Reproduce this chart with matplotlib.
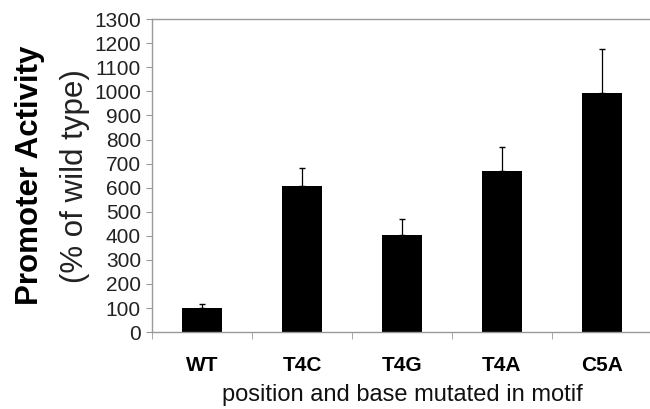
import matplotlib.pyplot as plt
import numpy as np

plt.rcParams['font.family'] = ['Liberation Sans', 'DejaVu Sans']

categories = ["WT", "T4C", "T4G", "T4A", "C5A"]
activity = [99, 608, 403, 671, 992]
upper_err = [16, 74, 65, 97, 184]
y_ticks = list(range(0, 1400, 100))


def create_plot():
	fig, ax = plt.subplots(1, 1, figsize=(6.5, 4.09), dpi=100)
	plt.subplots_adjust(left=0.234, right=1.003, top=0.953, bottom=0.188)

	x = np.arange(len(categories))
	ax.bar(x, activity, width=0.4, color="black", zorder=2)
	ax.errorbar(x, activity, yerr=[np.zeros(len(upper_err)), upper_err], fmt="none",
		ecolor="black", elinewidth=0.9, capsize=2.5, capthick=1, zorder=3)

	ax.set_xlim(-0.5, len(categories) - 0.5)
	ax.set_ylim(0, 1300)
	ax.set_yticks(y_ticks)
	ax.set_xticks(x)
	ax.set_xticklabels(categories, fontweight="bold", fontsize=15)
	ax.set_xticks(np.arange(len(categories) + 1) - 0.5, minor=True)
	ax.tick_params(axis="x", which="major", length=0, pad=17)
	ax.tick_params(axis="x", which="minor", length=5, color="#999999", direction="out")
	ax.tick_params(axis="y", length=4, color="#999999", labelsize=15, labelcolor="#222222", pad=4)
	for s in ax.spines.values():
		s.set_color("#999999")
		s.set_linewidth(1)

	ax.text(-0.245, 0.5, "Promoter Activity", transform=ax.transAxes, rotation=90,
		ha="center", va="center", fontsize=22.5, fontweight="bold")
	ax.text(-0.155, 0.5, "(% of wild type)", transform=ax.transAxes, rotation=90,
		ha="center", va="center", fontsize=22.5, color="#222222")
	ax.set_xlabel("position and base mutated in motif", fontsize=17, labelpad=7, color="#111111")

	plt.savefig("out.png")


create_plot()
